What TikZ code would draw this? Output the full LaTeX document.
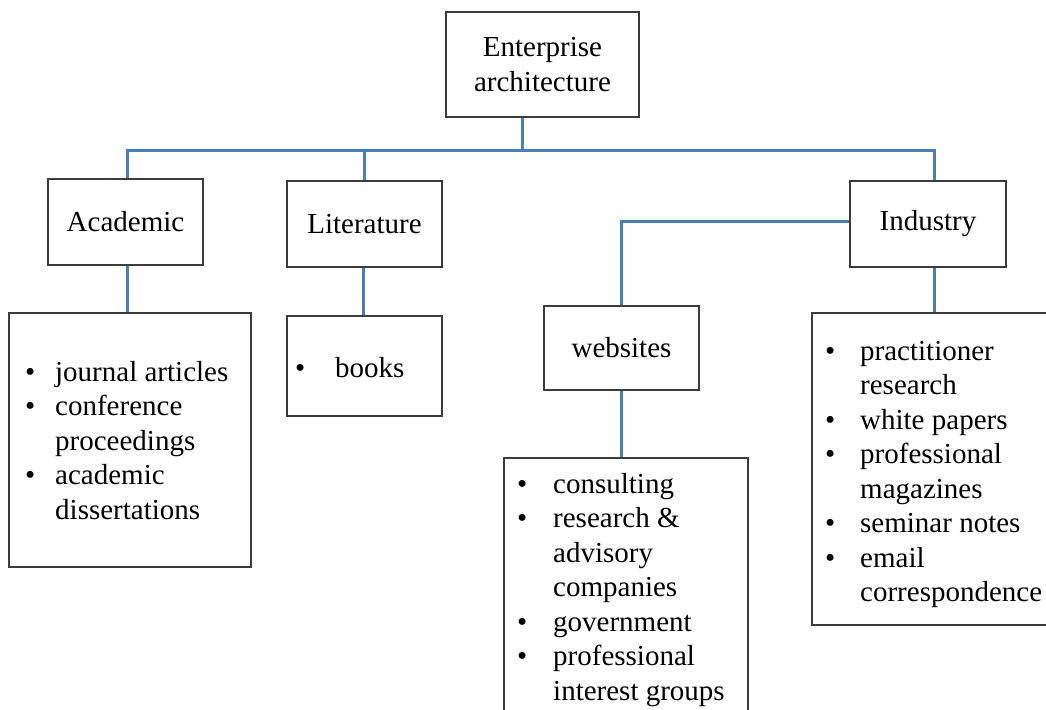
\documentclass[tikz,border=0pt]{standalone}
\usepackage{fontspec}
\setmainfont{Liberation Serif}
\usetikzlibrary{calc}

\newlength\bind
\newcommand\bitem[1]{\makebox[\bind][l]{•}#1}
\newcommand\bcont[1]{\hspace*{\bind}#1}
\newcommand\listfont{\fontsize{29}{34.5}\selectfont}

\definecolor{linkblue}{RGB}{74,126,187}
\definecolor{boxgray}{RGB}{60,60,60}

\tikzset{
  box/.style={draw=boxgray, line width=1.4pt, inner sep=0pt, align=center,
              font=\listfont},
  listtext/.style={anchor=base west, inner sep=0pt, font=\listfont},
  link/.style={draw=linkblue, line width=3pt},
}

\begin{document}
\begin{tikzpicture}[x=1pt, y=-1pt]
  \useasboundingbox (0,0) rectangle (1046,709);
  \clip (0,0) rectangle (1046,709);
  \fill[white] (0,0) rectangle (1046,709);

  % category boxes
  \node[box, minimum width=193pt, minimum height=105pt] (ea) at (542.5,64.5)
       {Enterprise\\architecture};
  \node[box, minimum width=155pt, minimum height=86pt] (acad) at (125.5,222) {Academic};
  \node[box, minimum width=155pt, minimum height=86pt] (lit) at (364.5,224) {Literature};
  \node[box, minimum width=156pt, minimum height=86pt] (ind) at (928,224) {Industry};
  \node[box, minimum width=155pt, minimum height=84pt] (web) at (621.5,348) {websites};

  % list boxes
  \node[box, minimum width=242pt, minimum height=254pt] (acadlist) at (130,440) {};
  \node[box, minimum width=155pt, minimum height=100pt] (litlist) at (364.5,366) {};
  \node[box, minimum width=244pt, minimum height=267pt] (weblist) at (626,591.5) {};
  \node[box, minimum width=248pt, minimum height=312pt] (indlist) at (936,469) {};

  % list contents
  \node[listtext] (acadtxt) at (25,381) {\setlength\bind{30pt}%
    \begin{tabular}[t]{@{}l@{}}
      \bitem{journal articles}\\
      \bitem{conference}\\
      \bcont{proceedings}\\
      \bitem{academic}\\
      \bcont{dissertations}
    \end{tabular}};
  \node[listtext] (littxt) at (295,377) {\setlength\bind{40pt}%
    \begin{tabular}[t]{@{}l@{}}
      \bitem{books}
    \end{tabular}};
  \node[listtext] (webtxt) at (517,493) {\setlength\bind{36pt}%
    \begin{tabular}[t]{@{}l@{}}
      \bitem{consulting}\\
      \bitem{research \&}\\
      \bcont{advisory}\\
      \bcont{companies}\\
      \bitem{government}\\
      \bitem{professional}\\
      \bcont{interest groups}
    \end{tabular}};
  \node[listtext] (indtxt) at (825,360) {\setlength\bind{35pt}%
    \begin{tabular}[t]{@{}l@{}}
      \bitem{practitioner}\\
      \bcont{research}\\
      \bitem{white papers}\\
      \bitem{professional}\\
      \bcont{magazines}\\
      \bitem{seminar notes}\\
      \bitem{email}\\
      \bcont{correspondence}
    \end{tabular}};

  % junction points of the connector bus
  \coordinate (busL) at (127,150);
  \coordinate (busR) at (934,150);
  \coordinate (eaJ) at (522,150);

  % connectors
  \draw[link] (eaJ |- ea.south) -- (eaJ);
  \draw[link] (busL |- acad.north) -- (busL) -- (busR) -- (busR |- ind.north);
  \draw[link] (lit.north) -- (lit.north |- busL);
  \draw[link] (web.north) |- ([yshift=3pt]ind.west);
  \draw[link] (busL |- acad.south) -- (busL |- acadlist.north);
  \draw[link] ([xshift=-1.5pt]lit.south) -- ([xshift=-1.5pt]lit.south |- litlist.north);
  \draw[link] (web.south) -- (web.south |- weblist.north);
  \draw[link] (busR |- ind.south) -- (busR |- indlist.north);
\end{tikzpicture}
\end{document}
